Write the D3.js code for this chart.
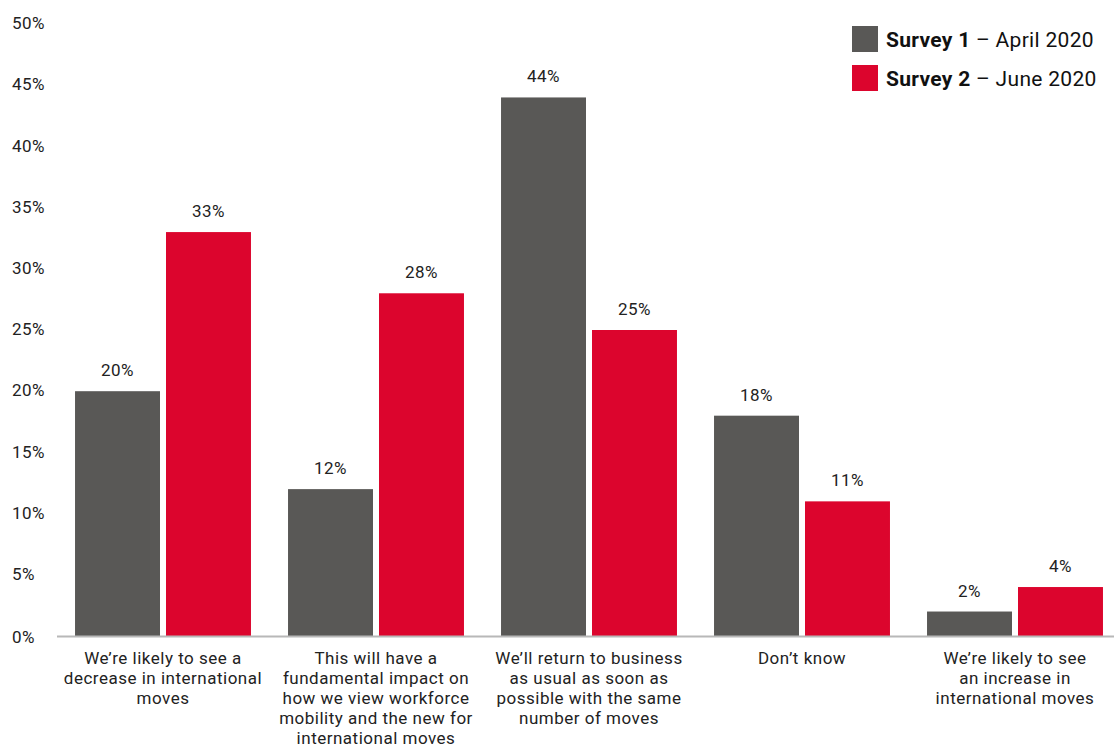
<!DOCTYPE html>
<html>
<head>
<meta charset="utf-8">
<script src="https://cdn.jsdelivr.net/npm/d3@7"></script>
<style>
  body { margin: 0; background: #fff; }
  svg { display: block; font-family: Roboto, 'Noto Sans', sans-serif; }
</style>
</head>
<body>
<svg id="chart" width="1114" height="747"></svg>
<script>
// data
const categories = [
  ['We\u2019re likely to see a', 'decrease in international', 'moves'],
  ['This will have a', 'fundamental impact on', 'how we view workforce', 'mobility and the new for', 'international moves'],
  ['We\u2019ll return to business', 'as usual as soon as', 'possible with the same', 'number of moves'],
  ['Don\u2019t know'],
  ['We\u2019re likely to see', 'an increase in', 'international moves']
];
const seriesNames = ['Survey 1', 'Survey 2'];
const seriesDates = ['April 2020', 'June 2020'];
const survey1 = [20, 12, 44, 18, 2];
const survey2 = [33, 28, 25, 11, 4];
const yTicks = [0, 5, 10, 15, 20, 25, 30, 35, 40, 45, 50];

const colors = ['#595856', '#dc052d'];
const textColor = '#222';

const svg = d3.select('#chart');
const baseY = 636;
const topY = 24;

const x0 = d3.scaleBand()
  .domain(d3.range(categories.length))
  .range([56.5, 1121.5])
  .paddingInner(0.174)
  .paddingOuter(0.087);

const x1 = d3.scaleBand()
  .domain([0, 1])
  .range([0, x0.bandwidth()])
  .paddingInner(0.066);

const y = d3.scaleLinear().domain([0, 50]).range([baseY, topY]);

// y tick labels
svg.append('g')
  .selectAll('text')
  .data(yTicks)
  .join('text')
    .attr('x', 12)
    .attr('y', d => y(d) + (d === 0 ? 1 : -1))
    .attr('dy', '0.36em')
    .attr('font-size', 17)
    .attr('letter-spacing', 0.4)
    .attr('fill', textColor)
    .text(d => d + '%');

// bars
const rows = categories.map((c, i) => [survey1[i], survey2[i]]);
const groups = svg.append('g')
  .selectAll('g')
  .data(rows)
  .join('g')
    .attr('transform', (d, i) => 'translate(' + x0(i) + ',0)');

groups.selectAll('rect')
  .data(d => d)
  .join('rect')
    .attr('x', (d, j) => x1(j))
    .attr('y', d => y(d))
    .attr('width', x1.bandwidth())
    .attr('height', d => baseY - y(d))
    .attr('fill', (d, j) => colors[j]);

groups.selectAll('text')
  .data(d => d)
  .join('text')
    .attr('x', (d, j) => x1(j) + x1.bandwidth() / 2)
    .attr('y', d => y(d) - 15)
    .attr('text-anchor', 'middle')
    .attr('font-size', 17)
    .attr('letter-spacing', 0.4)
    .attr('fill', textColor)
    .text(d => d + '%');

// baseline
svg.append('line')
  .attr('x1', 57)
  .attr('x2', 1114)
  .attr('y1', baseY + 0.5)
  .attr('y2', baseY + 0.5)
  .attr('stroke', '#b8b8b8')
  .attr('stroke-width', 2);

// category labels
svg.append('g')
  .selectAll('text')
  .data(categories)
  .join('text')
    .attr('x', (d, i) => x0(i) + x0.bandwidth() / 2)
    .attr('y', 664)
    .attr('text-anchor', 'middle')
    .attr('font-size', 17)
    .attr('letter-spacing', 0.5)
    .attr('fill', textColor)
  .selectAll('tspan')
  .data(d => d)
  .join('tspan')
    .attr('x', function() { return this.parentNode.getAttribute('x'); })
    .attr('dy', (d, k) => k === 0 ? 0 : 20)
    .text(d => d);

// legend
const legend = svg.append('g')
  .selectAll('g')
  .data(seriesNames)
  .join('g')
    .attr('transform', (d, i) => 'translate(852,' + (26 + i * 39) + ')');

legend.append('rect')
  .attr('width', 26)
  .attr('height', 26)
  .attr('fill', (d, i) => colors[i]);

const legendText = legend.append('text')
  .attr('x', 34)
  .attr('y', 13)
  .attr('dy', '0.36em')
  .attr('font-size', 21)
  .attr('letter-spacing', 0.3)
  .attr('fill', '#111');

legendText.append('tspan')
  .attr('font-weight', 'bold')
  .text(d => d);
legendText.append('tspan')
  .text((d, i) => ' \u2013 ' + seriesDates[i]);
</script>
</body>
</html>
